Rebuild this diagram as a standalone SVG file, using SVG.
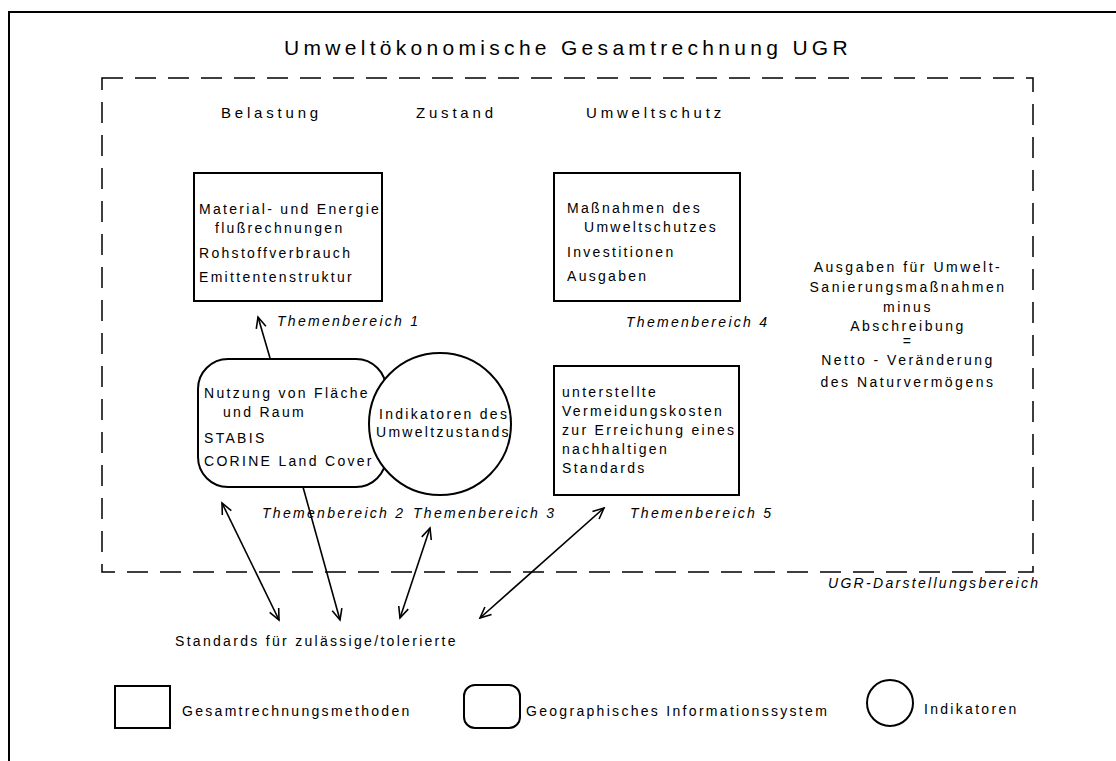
<svg xmlns="http://www.w3.org/2000/svg" width="1116" height="761" viewBox="0 0 1116 761">
<defs>
<style>
text{font-family:"Liberation Sans",Arial,sans-serif;fill:#000;}
.t{font-size:14px;letter-spacing:2.3px;}
.it{font-size:14px;letter-spacing:2.3px;font-style:italic;}
.h{font-size:15px;letter-spacing:3.8px;}
.title{font-size:21px;letter-spacing:4.3px;}
.note{font-size:14px;letter-spacing:2.5px;text-anchor:middle;}
.box{fill:#fff;stroke:#000;stroke-width:2;}
.frame{fill:none;stroke:#000;stroke-width:2;}
.dash{fill:none;stroke:#000;stroke-width:1.5;stroke-dasharray:21 12;}
.conn{fill:none;stroke:#000;stroke-width:1.6;}
</style>
<marker id="ah" viewBox="-13 -7 15 14" markerWidth="15" markerHeight="14" refX="0" refY="0" markerUnits="userSpaceOnUse" orient="auto-start-reverse">
<path d="M-11,-5 L0,0 L-11,5" fill="none" stroke="#000" stroke-width="1.6"/>
</marker>
</defs>
<rect width="1116" height="761" fill="#fff"/>
<g id="frame">
<path class="frame" d="M9,761 V12 H1116"/>
</g>
<g id="title"><text class="title" x="284" y="55">Umweltökonomische Gesamtrechnung UGR</text></g>
<g id="ugr-region">
<rect class="dash" x="102" y="78" width="931" height="494"/>
<text class="it" x="828" y="588">UGR-Darstellungsbereich</text>
</g>
<g id="headers">
<text class="h" x="221" y="118">Belastung</text>
<text class="h" x="416" y="118">Zustand</text>
<text class="h" x="586" y="118">Umweltschutz</text>
</g>
<g id="box1">
<rect class="box" x="194" y="173" width="188" height="128"/>
<text class="t" x="199" y="214">Material- und Energie</text>
<text class="t" x="215" y="233">flußrechnungen</text>
<text class="t" x="199" y="258">Rohstoffverbrauch</text>
<text class="t" x="199" y="282">Emittentenstruktur</text>
<text class="it" x="277" y="326">Themenbereich 1</text>
</g>
<g id="box4">
<rect class="box" x="554" y="173" width="186" height="128"/>
<text class="t" x="567" y="213">Maßnahmen des</text>
<text class="t" x="584" y="232">Umweltschutzes</text>
<text class="t" x="567" y="257">Investitionen</text>
<text class="t" x="567" y="281">Ausgaben</text>
<text class="it" x="626" y="327">Themenbereich 4</text>
</g>
<g id="gis">
<rect class="box" x="198" y="359" width="188" height="128" rx="30" ry="30"/>
<text class="t" x="204" y="398">Nutzung von Fläche</text>
<text class="t" x="223" y="417">und Raum</text>
<text class="t" x="204" y="443">STABIS</text>
<text class="t" x="204" y="466">CORINE Land Cover</text>
<text class="it" x="262" y="518">Themenbereich 2</text>
</g>
<g id="indicators">
<circle class="box" cx="440" cy="424" r="71"/>
<text class="t" x="379" y="419">Indikatoren des</text>
<text class="t" x="376" y="437">Umweltzustands</text>
<text class="it" x="413" y="518">Themenbereich 3</text>
</g>
<g id="box5">
<rect class="box" x="554" y="366" width="185" height="129"/>
<text class="t" x="562" y="397">unterstellte</text>
<text class="t" x="562" y="416">Vermeidungskosten</text>
<text class="t" x="562" y="435">zur Erreichung eines</text>
<text class="t" x="562" y="454">nachhaltigen</text>
<text class="t" x="562" y="473">Standards</text>
<text class="it" x="630" y="518">Themenbereich 5</text>
</g>
<g id="note">
<text class="note" x="908" y="272">Ausgaben für Umwelt-</text>
<text class="note" x="908" y="292">Sanierungsmaßnahmen</text>
<text class="note" x="908" y="312">minus</text>
<text class="note" x="908" y="331">Abschreibung</text>
<text class="note" x="908" y="346">=</text>
<text class="note" x="908" y="365">Netto - Veränderung</text>
<text class="note" x="908" y="387">des Naturvermögens</text>
</g>
<g id="standards">
<text class="t" x="175" y="646">Standards für zulässige/tolerierte</text>
</g>
<g id="connectors">
<line class="conn" x1="270" y1="358" x2="258" y2="317" marker-end="url(#ah)"/>
<line class="conn" x1="222" y1="503" x2="279" y2="620" marker-start="url(#ah)" marker-end="url(#ah)"/>
<line class="conn" x1="303" y1="487" x2="340" y2="620" marker-end="url(#ah)"/>
<line class="conn" x1="430" y1="528" x2="400" y2="618" marker-start="url(#ah)" marker-end="url(#ah)"/>
<line class="conn" x1="604" y1="508" x2="480" y2="618" marker-start="url(#ah)" marker-end="url(#ah)"/>
</g>
<g id="legend-methods">
<rect class="box" x="115" y="686" width="55" height="42"/>
<text class="t" x="182" y="716">Gesamtrechnungsmethoden</text>
</g>
<g id="legend-gis">
<rect class="box" x="464" y="685" width="56" height="43" rx="11" ry="11"/>
<text class="t" x="526" y="716">Geographisches Informationssystem</text>
</g>
<g id="legend-indicators">
<circle class="box" cx="890" cy="703" r="23"/>
<text class="t" x="924" y="714">Indikatoren</text>
</g>
</svg>
